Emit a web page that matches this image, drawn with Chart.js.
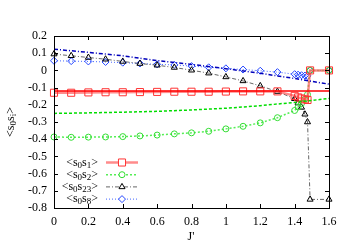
<!DOCTYPE html>
<html>
<head>
<meta charset="utf-8">
<script src="https://cdn.jsdelivr.net/npm/chart.js@4.4.1/dist/chart.umd.min.js"></script>
<style>html,body{margin:0;padding:0;background:#fff}</style>
</head>
<body>
<canvas id="chart" width="350" height="245"></canvas>
<script>
const seriesNames = ['<s0s1>', '<s0s2>', '<s0s23>', '<s0s8>'];
const xTitle = "J'";
const yTitle = '<s0si>';

// J' values of the sampled points
const jPoints = [0, 0.1, 0.2, 0.3, 0.4, 0.5, 0.6, 0.7, 0.8, 0.9, 1.0, 1.1, 1.2, 1.3, 1.4, 1.42, 1.44, 1.46, 1.475, 1.49, 1.6];
const s0s1 = [-0.13, -0.13, -0.128, -0.127, -0.127, -0.126, -0.125, -0.124, -0.124, -0.124, -0.123, -0.122, -0.122, -0.122, -0.148, -0.157, -0.163, -0.168, -0.172, 0, 0];
const s0s2 = [-0.387, -0.389, -0.388, -0.387, -0.385, -0.381, -0.376, -0.369, -0.363, -0.354, -0.34, -0.325, -0.305, -0.275, -0.233, -0.213, -0.192, -0.168, -0.14, 0, 0];
const s0s23 = [0.095, 0.085, 0.075, 0.065, 0.052, 0.04, 0.03, 0.017, 0.001, -0.016, -0.038, -0.061, -0.09, -0.123, -0.165, -0.19, -0.215, -0.255, -0.3, -0.75, -0.75];
const s0s8 = [0.056, 0.054, 0.052, 0.049, 0.045, 0.04, 0.035, 0.032, 0.025, 0.018, 0.012, 0.005, -0.002, -0.01, -0.022, -0.025, -0.028, -0.03, -0.032, 0, 0];

// smooth curves without markers
const jLine = [0, 0.2, 0.4, 0.6, 0.8, 1.0, 1.2, 1.4, 1.6];
const s0s1Line = [-0.12, -0.12, -0.12, -0.12, -0.12, -0.12, -0.12, -0.12, -0.12];
const s0s2Line = [-0.25, -0.247, -0.243, -0.238, -0.23, -0.22, -0.205, -0.186, -0.163];
const s0s8Line = [0.123, 0.105, 0.085, 0.057, 0.035, 0.01, -0.017, -0.047, -0.08];

const xTicks = [0, 0.2, 0.4, 0.6, 0.8, 1.0, 1.2, 1.4, 1.6];
const yTicks = [0.2, 0.1, 0, -0.1, -0.2, -0.3, -0.4, -0.5, -0.6, -0.7, -0.8];

const FONT = '"Liberation Serif", "DejaVu Serif", serif';

function pts(xs, ys) {
  return xs.map((x, i) => ({x: x, y: ys[i]}));
}

const datasets = [
  {data: pts(jLine, s0s1Line), borderColor: '#ff0000', borderWidth: 1.5, pointRadius: 0, legend: false},
  {data: pts(jLine, s0s2Line), borderColor: '#00dd00', borderWidth: 1.5, borderDash: [3, 2], pointRadius: 0, legend: false},
  {data: pts(jLine, s0s8Line), borderColor: '#0000bb', borderWidth: 1.5, borderDash: [4, 2, 1, 2], pointRadius: 0, legend: false},
  {label: seriesNames[0], data: pts(jPoints, s0s1), borderColor: 'rgba(255,90,90,0.7)', borderWidth: 2.5,
   pointStyle: 'rect', pointRadius: 5, pointBorderColor: '#ff3333', pointBorderWidth: 1, pointBackgroundColor: 'rgba(0,0,0,0)'},
  {label: seriesNames[1], data: pts(jPoints, s0s2), borderColor: '#55ee55', borderWidth: 1.5, borderDash: [2, 2],
   pointStyle: 'circle', pointRadius: 3, pointBorderColor: '#33dd33', pointBorderWidth: 1, pointBackgroundColor: 'rgba(0,0,0,0)'},
  {label: seriesNames[2], data: pts(jPoints, s0s23), borderColor: '#666666', borderWidth: 1, borderDash: [4, 2, 1, 2],
   pointStyle: 'triangle', pointRadius: 3.5, pointBorderColor: '#000000', pointBorderWidth: 1, pointBackgroundColor: 'rgba(0,0,0,0)'},
  {label: seriesNames[3], data: pts(jPoints, s0s8), borderColor: '#4466ff', borderWidth: 1, borderDash: [1, 2],
   pointStyle: 'rectRot', pointRadius: 3.5, pointBorderColor: '#2244ff', pointBorderWidth: 1, pointBackgroundColor: 'rgba(0,0,0,0)'}
];
datasets.forEach(d => { d.tension = 0; d.fill = false; d.clip = false; });

// text like <s0s1> : the run after each "s" is a subscript
function splitSub(text) {
  const parts = [];
  let i = 0;
  while (i < text.length) {
    const c = text[i++];
    parts.push([c, false]);
    if (c === 's') {
      let sub = '';
      while (i < text.length && text[i] !== 's' && text[i] !== '>') sub += text[i++];
      if (sub) parts.push([sub, true]);
    }
  }
  return parts;
}

function drawSubText(ctx, text, x, y, alignRight) {
  const parts = splitSub(text);
  let total = 0;
  parts.forEach(p => {
    ctx.font = (p[1] ? '9px ' : '12px ') + FONT;
    p.push(ctx.measureText(p[0]).width);
    total += p[2];
  });
  let cx = alignRight ? x - total : x - total / 2;
  ctx.textBaseline = 'middle';
  ctx.textAlign = 'left';
  parts.forEach(p => {
    ctx.font = (p[1] ? '9px ' : '12px ') + FONT;
    ctx.fillText(p[0], cx, p[1] ? y + 3 : y);
    cx += p[2];
  });
}

const framePlugin = {
  id: 'frame',
  afterDatasetsDraw(chart) {
    const ctx = chart.ctx;
    const a = chart.chartArea;
    const xs = chart.scales.x, ys = chart.scales.y;
    ctx.save();
    ctx.strokeStyle = '#000';
    ctx.lineWidth = 1;
    ctx.beginPath();
    xTicks.forEach(v => {
      const px = Math.round(xs.getPixelForValue(v)) + 0.5;
      ctx.moveTo(px, a.bottom); ctx.lineTo(px, a.bottom - 4);
      ctx.moveTo(px, a.top); ctx.lineTo(px, a.top + 4);
    });
    yTicks.forEach(v => {
      const py = Math.round(ys.getPixelForValue(v)) + 0.5;
      ctx.moveTo(a.left, py); ctx.lineTo(a.left + 4, py);
      ctx.moveTo(a.right, py); ctx.lineTo(a.right - 4, py);
    });
    ctx.stroke();
    ctx.strokeRect(Math.round(a.left) + 0.5, Math.round(a.top) + 0.5, Math.round(a.right - a.left), Math.round(a.bottom - a.top));

    // legend inside the plot
    const shown = chart.data.datasets.filter(d => d.legend !== false);
    shown.forEach((d, i) => {
      const y = 162.5 + i * 12.2;
      ctx.fillStyle = '#000';
      drawSubText(ctx, d.label, 98, y, true);
      ctx.save();
      ctx.strokeStyle = d.borderColor;
      ctx.lineWidth = d.borderWidth;
      ctx.setLineDash(d.borderDash || []);
      ctx.beginPath();
      ctx.moveTo(106, y); ctx.lineTo(138, y);
      ctx.stroke();
      ctx.setLineDash([]);
      ctx.strokeStyle = d.pointBorderColor;
      ctx.fillStyle = '#ffffff';
      ctx.lineWidth = 1;
      Chart.helpers.drawPoint(ctx, {pointStyle: d.pointStyle, radius: d.pointRadius, rotation: 0, borderWidth: 1}, 122, y);
      ctx.restore();
    });

    // axis titles
    ctx.fillStyle = '#000';
    ctx.save();
    ctx.translate(11, 122);
    ctx.rotate(-Math.PI / 2);
    drawSubText(ctx, yTitle, 0, 0, false);
    ctx.restore();
    ctx.font = '12px ' + FONT;
    ctx.textAlign = 'center';
    ctx.textBaseline = 'middle';
    ctx.fillText(xTitle, 191, 237);
    ctx.restore();
  }
};

function fmt(v) {
  if (Math.abs(v) < 1e-9) return '0';
  return String(+v.toFixed(1));
}

new Chart(document.getElementById('chart'), {
  type: 'line',
  data: {datasets: datasets},
  options: {
    responsive: false,
    animation: false,
    layout: {padding: {top: 36, right: 21, left: 0, bottom: 0}},
    plugins: {legend: {display: false}, tooltip: {enabled: false}},
    scales: {
      x: {
        type: 'linear', min: 0, max: 1.6,
        afterFit: s => { s.height = 37; },
        afterBuildTicks: s => { s.ticks = xTicks.map(v => ({value: v})); },
        grid: {display: false, drawTicks: false},
        border: {display: false},
        ticks: {padding: 7, color: '#000', font: {family: FONT, size: 12}, callback: fmt, maxRotation: 0, autoSkip: false}
      },
      y: {
        type: 'linear', min: -0.8, max: 0.2,
        afterFit: s => { s.width = 54; },
        afterBuildTicks: s => { s.ticks = yTicks.map(v => ({value: v})); },
        grid: {display: false, drawTicks: false},
        border: {display: false},
        ticks: {padding: 7, color: '#000', font: {family: FONT, size: 12}, callback: fmt, autoSkip: false}
      }
    }
  },
  plugins: [framePlugin]
});
</script>
</body>
</html>
